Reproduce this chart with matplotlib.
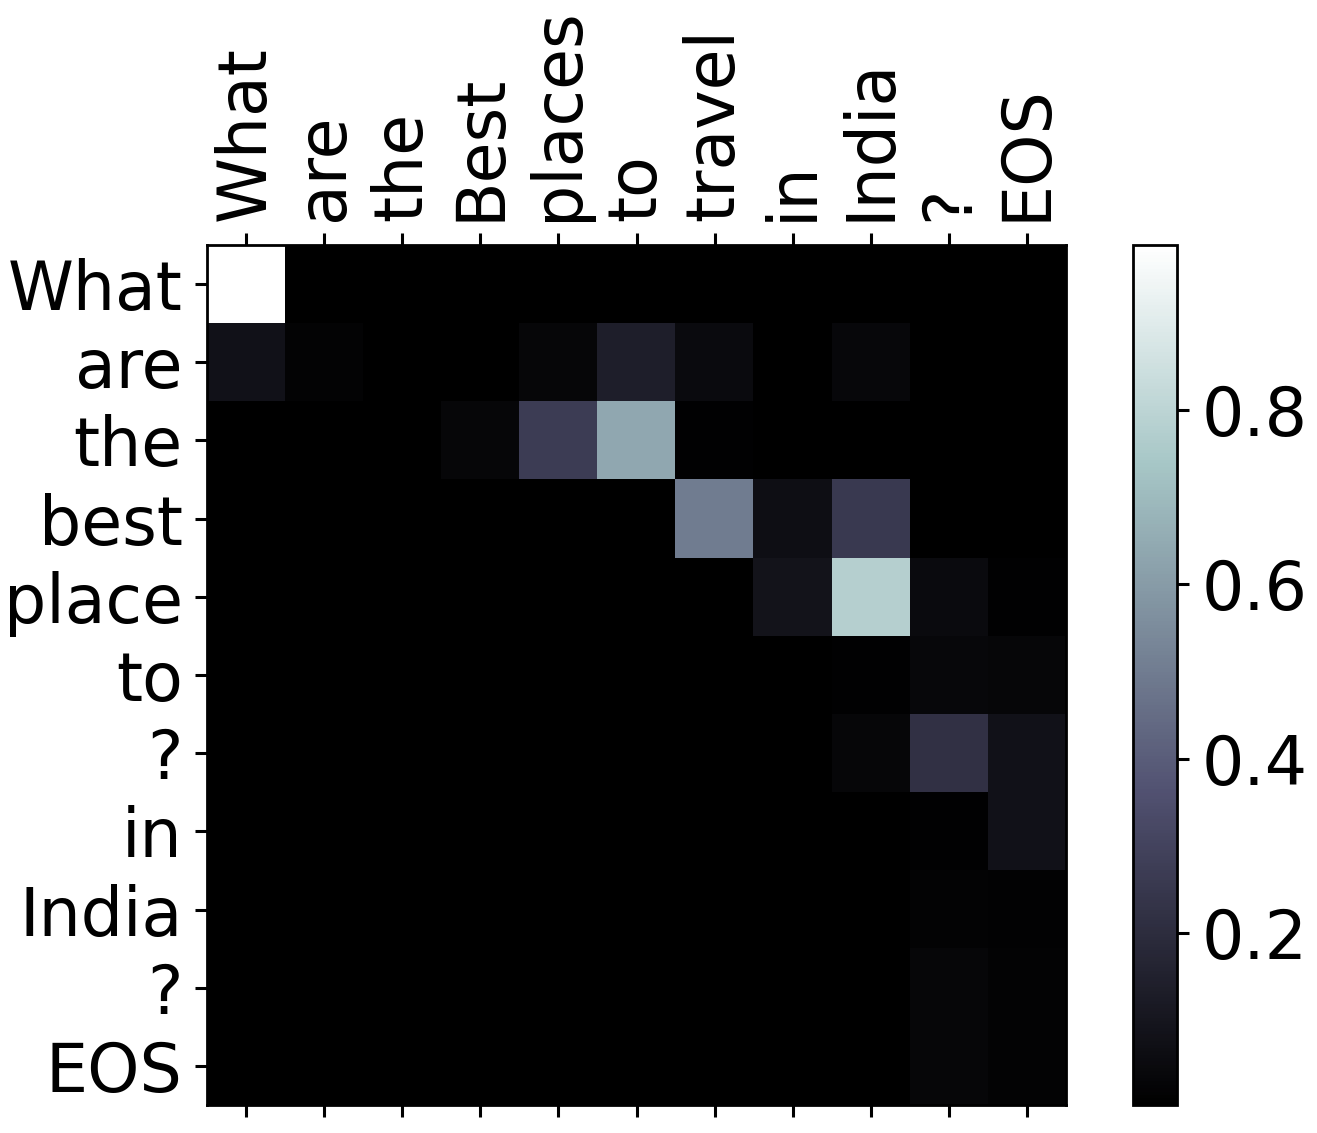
import numpy as np
import matplotlib
matplotlib.use("Agg")
import matplotlib.pyplot as plt

# source words (columns) and output words (rows)
input_words = ["What", "are", "the", "Best", "places", "to", "travel", "in", "India", "?", "EOS"]
output_words = ["What", "are", "the", "best", "place", "to", "?", "in", "India", "?", "EOS"]

# attention weights, one row per output word
row_what = [0.99, 0.003, 0.002, 0.002, 0.002, 0.002, 0.002, 0.002, 0.002, 0.002, 0.002]
row_are = [0.08, 0.02, 0.005, 0.005, 0.03, 0.14, 0.05, 0.005, 0.04, 0.005, 0.005]
row_the = [0.004, 0.004, 0.004, 0.03, 0.27, 0.64, 0.01, 0.004, 0.004, 0.004, 0.004]
row_best = [0.003, 0.003, 0.003, 0.003, 0.003, 0.003, 0.50, 0.07, 0.26, 0.004, 0.004]
row_place = [0.003, 0.003, 0.003, 0.003, 0.003, 0.003, 0.004, 0.09, 0.78, 0.05, 0.01]
row_to = [0.003, 0.003, 0.003, 0.003, 0.003, 0.003, 0.003, 0.003, 0.01, 0.04, 0.03]
row_q1 = [0.003, 0.003, 0.003, 0.003, 0.003, 0.003, 0.003, 0.005, 0.03, 0.22, 0.08]
row_in = [0.003, 0.003, 0.003, 0.003, 0.003, 0.003, 0.003, 0.003, 0.005, 0.01, 0.08]
row_india = [0.003, 0.003, 0.003, 0.003, 0.003, 0.003, 0.003, 0.003, 0.005, 0.02, 0.015]
row_q2 = [0.003, 0.003, 0.003, 0.003, 0.003, 0.003, 0.003, 0.003, 0.005, 0.03, 0.02]
row_eos = [0.003, 0.003, 0.003, 0.003, 0.003, 0.003, 0.003, 0.003, 0.005, 0.03, 0.02]

attn = np.array([row_what, row_are, row_the, row_best, row_place, row_to,
                 row_q1, row_in, row_india, row_q2, row_eos])

W, H = 1317, 1133
fig = plt.figure(figsize=(W / 100, H / 100), dpi=100)
ax = fig.add_axes([207 / W, 1 - 1105 / H, 859 / W, 860 / H])
cax = fig.add_axes([1133 / W, 1 - 1105 / H, 44 / W, 860 / H])

im = ax.matshow(attn, cmap="bone", aspect="auto")
cb = fig.colorbar(im, cax=cax, ticks=[0.2, 0.4, 0.6, 0.8])

fs = 48
ax.set_xticks(range(len(input_words)))
ax.set_xticklabels(input_words, rotation=90, fontsize=fs)
ax.set_yticks(range(len(output_words)))
ax.set_yticklabels(output_words, fontsize=fs)
ax.tick_params(axis="both", length=8.5, width=2.2, pad=9)
ax.tick_params(axis="x", top=True, bottom=True, labeltop=True, labelbottom=False)
for s in ax.spines.values():
    s.set_linewidth(2)

cb.ax.tick_params(labelsize=fs, length=8.5, width=2.2, pad=9)
cb.outline.set_linewidth(2)

fig.savefig("out.png", dpi=100)
